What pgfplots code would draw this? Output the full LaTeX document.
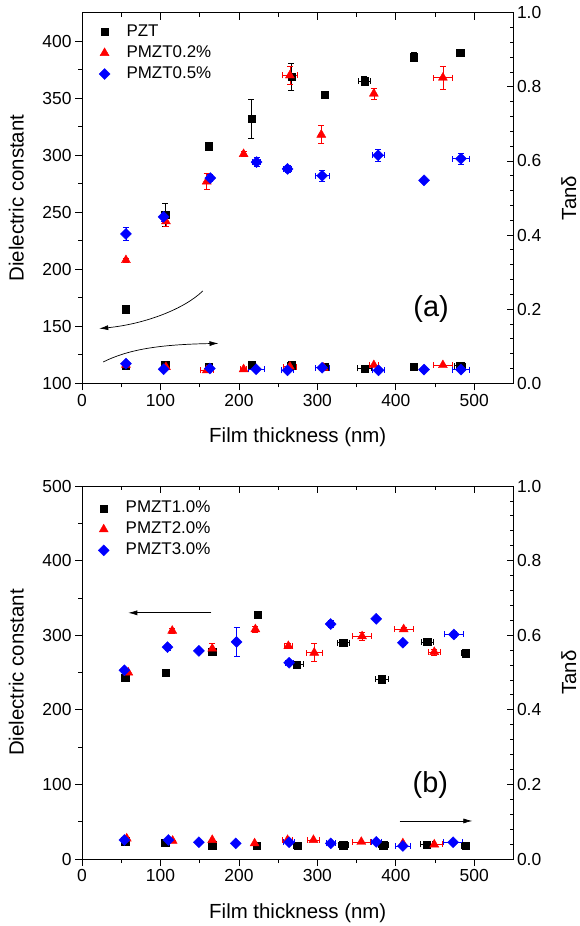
\documentclass[border=0pt]{standalone}
\usepackage{fontspec}
\setmainfont{Liberation Sans}
\usepackage{pgfplots}
\pgfplotsset{compat=1.18}
\usetikzlibrary{arrows.meta}
\newcommand{\fsT}{\fontsize{17.5}{21}\selectfont}
\newcommand{\fsL}{\fontsize{20.5}{24}\selectfont}
\newcommand{\fsG}{\fontsize{17}{20}\selectfont}
% square-ish diamond, like Origin's
\pgfdeclareplotmark{dia*}{%
  \pgfpathmoveto{\pgfqpoint{0pt}{\pgfplotmarksize}}%
  \pgfpathlineto{\pgfqpoint{\pgfplotmarksize}{0pt}}%
  \pgfpathlineto{\pgfqpoint{0pt}{-\pgfplotmarksize}}%
  \pgfpathlineto{\pgfqpoint{-\pgfplotmarksize}{0pt}}%
  \pgfpathclose\pgfusepathqfillstroke}

\pgfplotsset{
  base/.style={
    scale only axis, width=431.5bp,
    xmin=0, xmax=550, xtick={0,100,...,500}, minor x tick num=1,
    major tick length=7bp, minor tick length=4bp,
    tick style={black, line width=0.8bp},
    axis line style={black, line width=0.8bp, -},
    tick label style={font=\fsT},
    label style={font=\fsL},
    /pgf/number format/assume math mode=true,
  },
  leftax/.style={base, axis x line*=bottom, axis y line*=left, tick align=outside,
    xlabel={Film thickness (nm)}, ylabel={Dielectric constant},
    ylabel style={at={(axis description cs:-0.152,0.5)}, anchor=center},
    legend style={draw=none, fill=none, font=\fsG, inner sep=0bp, row sep=2bp,
      nodes={text height=12bp, text depth=3bp, inner ysep=2bp, inner xsep=5bp}},
    legend cell align=left,
    legend image code/.code={\path[draw=none, fill=none] (0bp,0bp) -- (26bp,0bp);
      \path[##1] plot coordinates {(9bp,0bp)};},
  },
  rightax/.style={base, axis x line*=top, axis y line*=right, tick align=inside,
    xticklabels={}, ymin=0, ymax=1, ytick={0,0.2,...,1.0}, minor y tick num=4,
    yticklabel style={/pgf/number format/.cd, fixed, fixed zerofill, precision=1},
    ylabel={Tanδ},
    ylabel style={at={(axis description cs:1.128,0.5)}, anchor=center},
  },
  blk/.style={only marks, mark=square*, mark size=3.6bp, black},
  rd/.style={only marks, mark=triangle*, mark size=5.2bp, red},
  bl/.style={only marks, mark=dia*, mark size=5.5bp, blue},
  errs/.style={error bars/.cd, x dir=both, x explicit, y dir=both, y explicit,
    error bar style={line width=0.7bp},
    error mark options={rotate=90, mark size=3bp, line width=0.7bp}},
}

\begin{document}
\begin{tikzpicture}

% ---------------- panel (a) ----------------
\begin{axis}[leftax, at={(82bp,-383.3bp)}, anchor=south west, height=370.6bp,
  ymin=100, ymax=425, ytick={100,150,...,400}, minor y tick num=1,
  xlabel style={at={(axis description cs:0.5,-0.146)}, anchor=center},
  legend style={at={(axis description cs:0.031,0.974)}, anchor=north west}]
\addplot[blk, errs] table[x=x, y=y, x error=ex, y error=ey] {
x   y   ex ey
56  165 0  2
106 248 0  10
162 308 0  3
216 332 0  17
267 369 4  12
309 353 0  2
360 365 8  4
423 386 4  4
482 390 4  2
};
\addlegendentry{PZT}
\addplot[rd, errs] table[x=x, y=y, x error=ex, y error=ey] {
x   y   ex ey
56  208 0  2
107 242 0  4
159 277 0  7
206 301 0  2
265 370 10 8
305 318 0  8
372 354 0  5
460 368 12 10
};
\addlegendentry{PMZT0.2\%}
\addplot[bl, errs] table[x=x, y=y, x error=ex, y error=ey] {
x     y   ex ey
56    231 0  6
104   246 0  4
163.5 280 0  3
222.5 294 5  4
262   288 5  3
306   282 9  5
377.5 300 8  5
436   278 0  2
483   297 11 5
};
\addlegendentry{PMZT0.5\%}
\draw[line width=0.7bp, -{Latex[length=9bp,width=5bp]}]
  (axis cs:154,181) .. controls (axis cs:130,165) and (axis cs:80,152) .. (axis cs:22,148);
\draw[line width=0.7bp, -{Latex[length=9bp,width=5bp]}]
  (axis cs:27,118.7) .. controls (axis cs:60,130) and (axis cs:100,134) .. (axis cs:174,135);
\node[font=\fontsize{29}{34}\selectfont] at (axis cs:445,165.5) {(a)};
\end{axis}

\begin{axis}[rightax, at={(82bp,-383.3bp)}, anchor=south west, height=370.6bp]
\addplot[blk, errs] table[x=x, y=y, x error=ex, y error=ey] {
x   y     ex ey
56  0.047 0  0
106 0.049 0  0
162 0.044 0  0
216 0.050 0  0
267 0.049 5  0
309 0.044 5  0
360 0.040 9  0
423 0.044 5  0
482 0.048 7  0
};
\addplot[rd, errs] table[x=x, y=y, x error=ex, y error=ey] {
x   y     ex ey
56  0.050 0  0
107 0.044 0  0
159 0.035 8  0
206 0.038 4  0
265 0.045 8  0
308 0.042 0  0
372 0.049 6  0
460 0.049 12 0
};
\addplot[bl, errs] table[x=x, y=y, x error=ex, y error=ey] {
x   y     ex ey
56  0.053 0  0
104 0.038 0  0
163 0.040 0  0
222 0.038 10 0
262 0.035 8  0
306 0.042 9  0
378 0.035 8  0
436 0.037 0  0
483 0.037 11 0
};
\end{axis}

% ---------------- panel (b) ----------------
\begin{axis}[leftax, at={(82bp,-859bp)}, anchor=south west, height=373bp,
  ymin=0, ymax=500, ytick={0,100,...,500}, minor y tick num=1,
  xlabel style={at={(axis description cs:0.5,-0.145)}, anchor=center},
  legend style={at={(axis description cs:0.029,0.966)}, anchor=north west}]
\addplot[blk, errs] table[x=x, y=y, x error=ex, y error=ey] {
x     y     ex ey
55    243   0  2
107   250   0  2
166   277.5 0  3
224   327   4  2
274   261   8  2
333   290   8  2
382.5 241   8  2
440   291   8  4
489   276   5  2
};
\addlegendentry{PMZT1.0\%}
\addplot[rd, errs] table[x=x, y=y, x error=ex, y error=ey] {
x   y     ex ey
59  250   0  2
115 306   0  3
166 282   0  7
221 308   0  4
263 285.5 5  3
296 276.5 10 12
357 298.5 12 6
410 308   12 3
449 277.5 8  4
};
\addlegendentry{PMZT2.0\%}
\addplot[bl, errs] table[x=x, y=y, x error=ex, y error=ey] {
x   y   ex ey
54  253 0  3
109 284 0  4
149 279 0  2
197 291 0  19
264 263 5  2
317 315 0  5
375 322 0  2
409 290 0  3
474 301 12 4
};
\addlegendentry{PMZT3.0\%}
\draw[line width=0.7bp, -{Latex[length=9bp,width=5bp]}] (axis cs:165,330) -- (axis cs:59,330);
\draw[line width=0.7bp, -{Latex[length=9bp,width=5bp]}] (axis cs:405,51) -- (axis cs:497.6,51);
\node[font=\fontsize{29}{34}\selectfont] at (axis cs:444,99) {(b)};
\end{axis}

\begin{axis}[rightax, at={(82bp,-859bp)}, anchor=south west, height=373bp]
\addplot[blk, errs] table[x=x, y=y, x error=ex, y error=ey] {
x   y     ex ey
55  0.048 0  0
106 0.044 0  0
166 0.037 0  0
223 0.036 0  0
275 0.036 5  0
333 0.037 6  0
384 0.037 6  0
439 0.039 8  0
489 0.036 5  0
};
\addplot[rd, errs] table[x=x, y=y, x error=ex, y error=ey] {
x     y     ex ey
57    0.055 0  0
115.5 0.049 0  0
166   0.051 0  0
220   0.042 0  0
262   0.051 6  0
295   0.051 8  0
356   0.046 11 0
409   0.042 0  0
449   0.039 10 0
};
\addplot[bl, errs] table[x=x, y=y, x error=ex, y error=ey] {
x   y     ex ey
54  0.051 0  0
110 0.051 0  0
149 0.045 0  0
196 0.042 0  0
264 0.045 7  0
317 0.042 6  0
375 0.046 6  0
409 0.035 10 0
473 0.045 12 0
};
\end{axis}

\pgfresetboundingbox
\useasboundingbox (0bp,0bp) rectangle (580bp,-926bp);
\end{tikzpicture}
\end{document}
